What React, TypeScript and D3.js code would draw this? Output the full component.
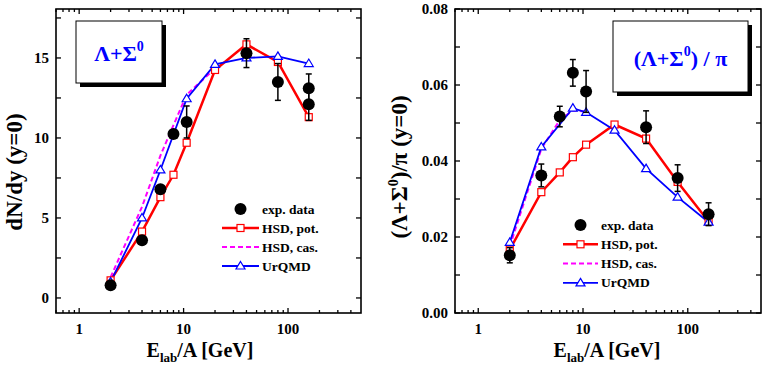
import React, { useEffect, useRef } from 'react';
import * as d3 from 'd3';

// beam energies E_lab/A [GeV]
const energies = [2, 4, 6, 8, 10.7, 20, 40, 80, 158];

// left panel: dN/dy (y=0) of Lambda+Sigma0
const yieldExpX = [2, 4, 6, 8, 10.7, 40, 80, 158, 158];
const yieldExp = [0.8, 3.6, 6.8, 10.25, 11.0, 15.3, 13.5, 13.1, 12.1];
const yieldErr = [0, 0, 0, 0, 1.0, 0.9, 1.15, 0.9, 1.0];
const yieldHsdPot = [1.1, 4.15, 6.3, 7.7, 9.7, 14.25, 15.85, 14.75, 11.3];
const yieldHsdCasX = [2, 4, 6, 8, 10.7, 20];
const yieldHsdCas = [1.3, 5.7, 8.9, 10.8, 12.7, 14.35];
const yieldUrqmdX = [2, 4, 6, 10.7, 20, 40, 80, 158];
const yieldUrqmd = [1.0, 5.0, 8.0, 12.45, 14.6, 15.0, 15.1, 14.65];
const yieldTicks = [0, 5, 10, 15];

// right panel: (Lambda+Sigma0)/pi ratio
const ratioExpX = [2, 4, 6, 8, 10.7, 40, 80, 158];
const ratioExp = [0.0152, 0.0362, 0.0517, 0.0632, 0.0583, 0.0489, 0.0355, 0.026];
const ratioErr = [0.002, 0.003, 0.0027, 0.0035, 0.0055, 0.0043, 0.0035, 0.003];
const ratioHsdPot = [0.0167, 0.0318, 0.037, 0.041, 0.0443, 0.0496, 0.0459, 0.0345, 0.0241];
const ratioHsdCasX = [2, 4, 6, 8, 10.7];
const ratioHsdCas = [0.0175, 0.0432, 0.0508, 0.0533, 0.053];
const ratioUrqmdX = [2, 4, 8, 10.7, 20, 40, 80, 158];
const ratioUrqmd = [0.0186, 0.0437, 0.0539, 0.0528, 0.0481, 0.038, 0.0305, 0.0239];
const ratioTicks = [0, 0.02, 0.04, 0.06, 0.08];

const legendLabels = ['exp. data', 'HSD, pot.', 'HSD, cas.', 'UrQMD'];
const xTickValues = [1, 10, 100];

const FONT = "'Liberation Serif', 'DejaVu Serif', serif";
const RED = '#ff0000';
const BLUE = '#0000ff';
const MAGENTA = '#ff00ff';

const W = 763;
const H = 365;

function drawPanel(svg, p) {
  const x = d3.scaleLog().domain([0.6, 500]).range([p.left, p.right]);
  const y = d3.scaleLinear().domain(p.yDomain).range([p.bottom, p.top]);
  const g = svg.append('g').style('font-family', FONT).style('font-weight', 'bold');

  // x ticks, inward on top and bottom
  const minors = [];
  [0.1, 1, 10, 100].forEach((dec) => {
    for (let m = 2; m <= 9; m++) {
      const v = m * dec;
      if (v > 0.6 && v < 500) minors.push(v);
    }
  });
  const tickLines = [];
  xTickValues.forEach((v) => tickLines.push({ v, len: 5 }));
  minors.forEach((v) => tickLines.push({ v, len: 3 }));
  tickLines.forEach((t) => {
    g.append('line').attr('x1', x(t.v)).attr('x2', x(t.v)).attr('y1', p.bottom).attr('y2', p.bottom - t.len).attr('stroke', '#000').attr('stroke-width', 1.3);
    g.append('line').attr('x1', x(t.v)).attr('x2', x(t.v)).attr('y1', p.top).attr('y2', p.top + t.len).attr('stroke', '#000').attr('stroke-width', 1.3);
  });
  xTickValues.forEach((v) => {
    g.append('text').attr('x', x(v)).attr('y', p.bottom + 21).attr('text-anchor', 'middle')
      .style('font-size', '15px').text(String(v));
  });

  // y ticks, inward on left and right
  const step = p.yTicks[1] - p.yTicks[0];
  const yt = [];
  p.yTicks.forEach((v) => yt.push({ v, len: 5 }));
  p.yTicks.forEach((v) => {
    const m = v + step / 2;
    if (m < p.yDomain[1]) yt.push({ v: m, len: 5 });
  });
  yt.forEach((t) => {
    g.append('line').attr('x1', p.left).attr('x2', p.left + t.len).attr('y1', y(t.v)).attr('y2', y(t.v)).attr('stroke', '#000').attr('stroke-width', 1.3);
    g.append('line').attr('x1', p.right).attr('x2', p.right - t.len).attr('y1', y(t.v)).attr('y2', y(t.v)).attr('stroke', '#000').attr('stroke-width', 1.3);
  });
  p.yTicks.forEach((v) => {
    g.append('text').attr('x', p.left - 7).attr('y', y(v) + 5).attr('text-anchor', 'end')
      .style('font-size', '15px').text(p.yFormat(v));
  });

  // frame
  g.append('rect').attr('x', p.left).attr('y', p.top).attr('width', p.right - p.left).attr('height', p.bottom - p.top)
    .attr('fill', 'none').attr('stroke', '#000').attr('stroke-width', 1.6);

  // title box with shadow
  const b = p.box;
  g.append('rect').attr('x', b.x + 4).attr('y', b.y + 4).attr('width', b.w).attr('height', b.h).attr('fill', '#000');
  g.append('rect').attr('x', b.x).attr('y', b.y).attr('width', b.w).attr('height', b.h).attr('fill', '#fff').attr('stroke', '#000').attr('stroke-width', 1);
  const bt = g.append('text').attr('x', b.x + b.w / 2).attr('y', b.y + b.h / 2 + 9).attr('text-anchor', 'middle')
    .style('font-size', '22px').attr('fill', BLUE);
  bt.append('tspan').text(b.pre);
  bt.append('tspan').style('font-size', '14px').attr('dy', -10).text('0');
  bt.append('tspan').attr('dy', 10).text(b.post);

  // curves
  const line = d3.line().x((d) => x(d[0])).y((d) => y(d[1]));
  const casPts = p.casX.map((v, i) => [v, p.cas[i]]);
  g.append('path').attr('d', line(casPts)).attr('fill', 'none').attr('stroke', MAGENTA).attr('stroke-width', 2).attr('stroke-dasharray', '5,3');
  const potPts = energies.map((v, i) => [v, p.pot[i]]);
  g.append('path').attr('d', line(potPts)).attr('fill', 'none').attr('stroke', RED).attr('stroke-width', 2.5);
  const urPts = p.urX.map((v, i) => [v, p.ur[i]]);
  g.append('path').attr('d', line(urPts)).attr('fill', 'none').attr('stroke', BLUE).attr('stroke-width', 1.8);

  const square = (cx, cy) => g.append('rect').attr('x', cx - 3.5).attr('y', cy - 3.5).attr('width', 7).attr('height', 7)
    .attr('fill', '#fff').attr('stroke', RED).attr('stroke-width', 1.2);
  const tri = (cx, cy) => g.append('path').attr('d', `M${cx},${cy - 4.5}L${cx + 4.5},${cy + 3}L${cx - 4.5},${cy + 3}Z`)
    .attr('fill', '#fff').attr('stroke', BLUE).attr('stroke-width', 1.2);
  potPts.forEach((d) => square(x(d[0]), y(d[1])));
  urPts.forEach((d) => tri(x(d[0]), y(d[1])));

  // experimental data
  p.expX.forEach((v, i) => {
    const cx = x(v);
    const e = p.err[i];
    if (e > 0) {
      const y1 = y(p.exp[i] + e);
      const y2 = y(p.exp[i] - e);
      g.append('line').attr('x1', cx).attr('x2', cx).attr('y1', y1).attr('y2', y2).attr('stroke', '#000').attr('stroke-width', 1.5);
      [y1, y2].forEach((yy) => g.append('line').attr('x1', cx - 3).attr('x2', cx + 3).attr('y1', yy).attr('y2', yy).attr('stroke', '#000').attr('stroke-width', 1.5));
    }
    g.append('circle').attr('cx', cx).attr('cy', y(p.exp[i])).attr('r', 6).attr('fill', '#000');
  });

  // legend
  const L = p.legend;
  legendLabels.forEach((lab, i) => {
    const yy = L.y + i * L.dy;
    const mid = (L.x0 + L.x1) / 2;
    if (i === 0) g.append('circle').attr('cx', mid).attr('cy', yy).attr('r', 6).attr('fill', '#000');
    if (i === 1) {
      g.append('line').attr('x1', L.x0).attr('x2', L.x1).attr('y1', yy).attr('y2', yy).attr('stroke', RED).attr('stroke-width', 2.5);
      square(mid, yy);
    }
    if (i === 2) g.append('line').attr('x1', L.x0).attr('x2', L.x1).attr('y1', yy).attr('y2', yy).attr('stroke', MAGENTA).attr('stroke-width', 2).attr('stroke-dasharray', '5,3');
    if (i === 3) {
      g.append('line').attr('x1', L.x0).attr('x2', L.x1).attr('y1', yy).attr('y2', yy).attr('stroke', BLUE).attr('stroke-width', 1.8);
      tri(mid, yy);
    }
    g.append('text').attr('x', L.x1 + 3).attr('y', yy + 4.5).style('font-size', '13.5px').text(lab);
  });

  // x label
  const xl = g.append('text').attr('x', p.xLabelX).attr('y', 357).attr('text-anchor', 'middle').style('font-size', '20px');
  xl.append('tspan').text('E');
  xl.append('tspan').style('font-size', '13px').attr('dy', 5).text('lab');
  xl.append('tspan').attr('dy', -5).text('/A [GeV]');

  // y label
  const yl = g.append('text').attr('transform', `translate(${p.yLabelX},${p.yLabelY}) rotate(-90)`).attr('text-anchor', 'middle')
    .style('font-size', '23px');
  p.yLabel(yl);
}

const App = () => {
  const svgRef = useRef(null);

  useEffect(() => {
    const svg = d3.select(svgRef.current);
    svg.selectAll('*').remove();

    drawPanel(svg, {
      left: 56, right: 361, top: 9, bottom: 313,
      yDomain: [-0.94, 18.06], yTicks: yieldTicks, yFormat: (v) => String(v),
      expX: yieldExpX, exp: yieldExp, err: yieldErr,
      pot: yieldHsdPot, casX: yieldHsdCasX, cas: yieldHsdCas, urX: yieldUrqmdX, ur: yieldUrqmd,
      box: { x: 76, y: 21, w: 86, h: 62, pre: 'Λ+Σ', post: '' },
      legend: { x0: 222, x1: 259, y: 209, dy: 19 },
      xLabelX: 200, yLabelX: 22, yLabelY: 172,
      yLabel: (t) => t.text('dN/dy (y=0)'),
    });

    drawPanel(svg, {
      left: 455, right: 761, top: 9, bottom: 313,
      yDomain: [0, 0.08], yTicks: ratioTicks, yFormat: d3.format('.2f'),
      expX: ratioExpX, exp: ratioExp, err: ratioErr,
      pot: ratioHsdPot, casX: ratioHsdCasX, cas: ratioHsdCas, urX: ratioUrqmdX, ur: ratioUrqmd,
      box: { x: 613, y: 21, w: 135, h: 71, pre: '(Λ+Σ', post: ') / π' },
      legend: { x0: 563, x1: 598, y: 225, dy: 19.3 },
      xLabelX: 607, yLabelX: 407, yLabelY: 167,
      yLabel: (t) => {
        t.append('tspan').text('(Λ+Σ');
        t.append('tspan').style('font-size', '14px').attr('dy', -9).text('0');
        t.append('tspan').attr('dy', 9).text(')/π (y=0)');
      },
    });
  }, []);

  return (
    <svg ref={svgRef} width={W} height={H}
      style={{ position: 'absolute', left: 0, top: 0, background: '#fff' }} />
  );
};

export default App;
